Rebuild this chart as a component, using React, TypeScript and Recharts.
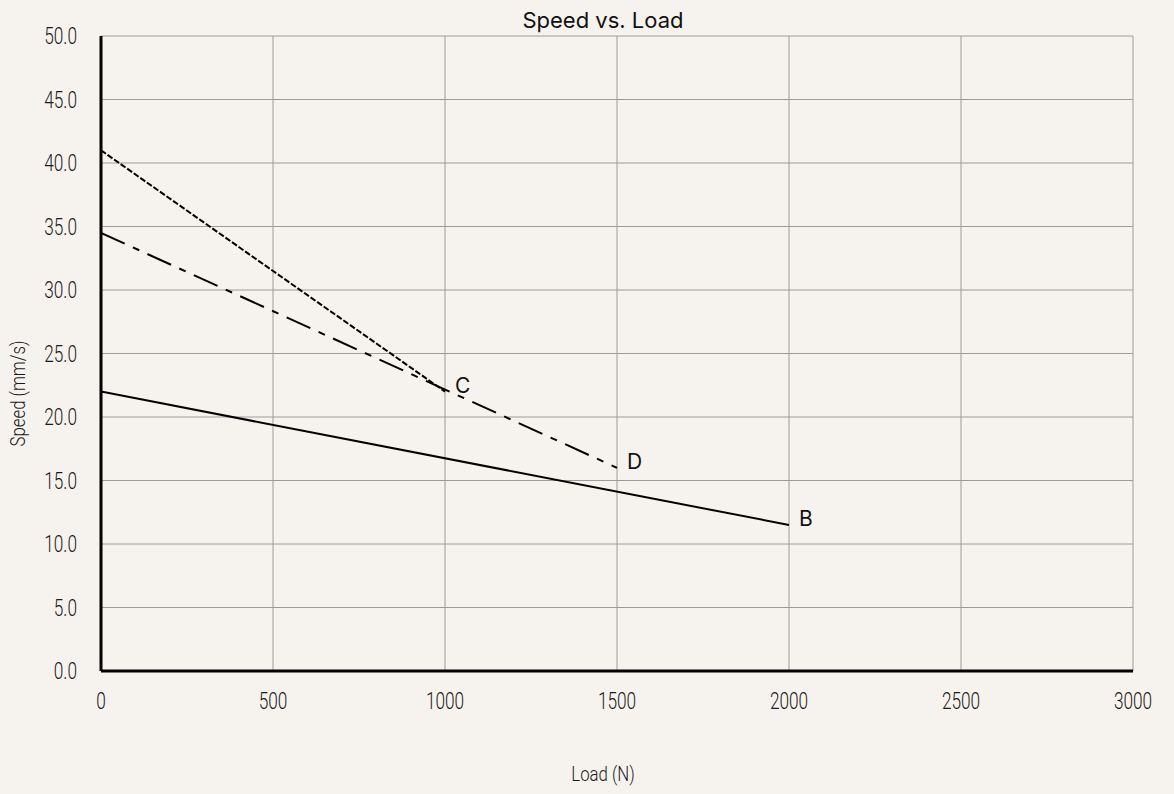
import React from "react";
import { LineChart, Line, XAxis, YAxis, CartesianGrid, Label } from "recharts";

const loadB = [0, 2000];
const speedB = [22, 11.5];
const loadC = [0, 1000];
const speedC = [41, 22];
const loadD = [0, 1500];
const speedD = [34.5, 16];
const xTicks = [0, 500, 1000, 1500, 2000, 2500, 3000];
const yTicks = [0, 5, 10, 15, 20, 25, 30, 35, 40, 45, 50];

const toPoints = (xs: number[], ys: number[]) => xs.map((x, i) => ({ load: x, speed: ys[i] }));

const seriesB = toPoints(loadB, speedB);
const seriesC = toPoints(loadC, speedC);
const seriesD = toPoints(loadD, speedD);

const BG = "#f6f3ee";
const FONT = "Roboto, sans-serif";
// the original uses a condensed face; squeeze Roboto horizontally
const SQUEEZE = 0.75;

const XTick = (props: any) => {
  const { x, y, payload } = props;
  return (
    <text
      transform={`translate(${x}, ${y}) scale(${SQUEEZE}, 1)`}
      textAnchor="middle"
      dy="0.71em"
      fontFamily={FONT}
      fontSize={23}
      fontWeight={300}
      fill="#1a1a1a"
    >
      {payload.value}
    </text>
  );
};

const YTick = (props: any) => {
  const { x, y, payload } = props;
  return (
    <text
      transform={`translate(${x}, ${y}) scale(${SQUEEZE}, 1)`}
      textAnchor="end"
      dy="0.355em"
      fontFamily={FONT}
      fontSize={23}
      fontWeight={300}
      fill="#1a1a1a"
    >
      {Number(payload.value).toFixed(1)}
    </text>
  );
};

// label drawn only at the last point of a line
const endLabel = (name: string, len: number) => (props: any) => {
  const { x, y, index } = props;
  if (index !== len - 1) return null;
  return (
    <text x={x + 10} y={y + 1} fontFamily="Inter, sans-serif" fontSize={21} fill="#111">
      {name}
    </text>
  );
};

const YTitle = (props: any) => {
  const { viewBox } = props;
  const cx = viewBox.x + 19;
  const cy = viewBox.y + viewBox.height / 2 + 40;
  return (
    <text
      transform={`translate(${cx}, ${cy}) rotate(-90) scale(0.84, 1)`}
      textAnchor="middle"
      dominantBaseline="central"
      fontFamily={FONT}
      fontSize={20}
      fontWeight={300}
      fill="#1a1a1a"
    >
      Speed (mm/s)
    </text>
  );
};

const XTitle = (props: any) => {
  const { viewBox } = props;
  const cx = 603;
  const cy = viewBox.y + viewBox.height - 13;
  return (
    <text
      transform={`translate(${cx}, ${cy}) scale(0.84, 1)`}
      textAnchor="middle"
      fontFamily={FONT}
      fontSize={20}
      fontWeight={300}
      fill="#1a1a1a"
    >
      Load (N)
    </text>
  );
};

export default function App() {
  React.useEffect(() => {
    document.body.style.margin = "0";
    document.body.style.background = BG;
  }, []);

  return (
    <div style={{ position: "relative", width: 1174, height: 794, background: BG }}>
      <div
        style={{
          position: "absolute",
          left: 603,
          top: 7,
          transform: "translateX(-50%)",
          fontFamily: "Inter, sans-serif",
          fontSize: 22,
          color: "#111",
          whiteSpace: "nowrap",
          lineHeight: "26px",
        }}
      >
        Speed vs. Load
      </div>
      <LineChart width={1174} height={794} margin={{ top: 36, right: 41, bottom: 0, left: 0 }}>
        <CartesianGrid
          stroke="#9c9c9c"
          strokeWidth={1}
          horizontalValues={yTicks}
          verticalValues={xTicks}
        />
        <XAxis
          type="number"
          dataKey="load"
          domain={[0, 3000]}
          ticks={xTicks}
          allowDataOverflow
          height={123}
          tickSize={0}
          tickMargin={22}
          tickLine={false}
          axisLine={{ stroke: "#000", strokeWidth: 3 }}
          tick={<XTick />}
        >
          <Label content={<XTitle />} />
        </XAxis>
        <YAxis
          type="number"
          dataKey="speed"
          domain={[0, 50]}
          ticks={yTicks}
          width={101}
          tickSize={0}
          tickMargin={24}
          tickLine={false}
          axisLine={{ stroke: "#000", strokeWidth: 3 }}
          tick={<YTick />}
        >
          <Label content={<YTitle />} />
        </YAxis>
        <Line
          data={seriesB}
          dataKey="speed"
          type="linear"
          stroke="#000"
          strokeWidth={2}
          dot={false}
          isAnimationActive={false}
          label={endLabel("B", seriesB.length)}
        />
        <Line
          data={seriesC}
          dataKey="speed"
          type="linear"
          stroke="#000"
          strokeWidth={2}
          strokeDasharray="6 2"
          dot={false}
          isAnimationActive={false}
          label={endLabel("C", seriesC.length)}
        />
        <Line
          data={seriesD}
          dataKey="speed"
          type="linear"
          stroke="#000"
          strokeWidth={2}
          strokeDasharray="26 9 7 9"
          dot={false}
          isAnimationActive={false}
          label={endLabel("D", seriesD.length)}
        />
      </LineChart>
    </div>
  );
}
